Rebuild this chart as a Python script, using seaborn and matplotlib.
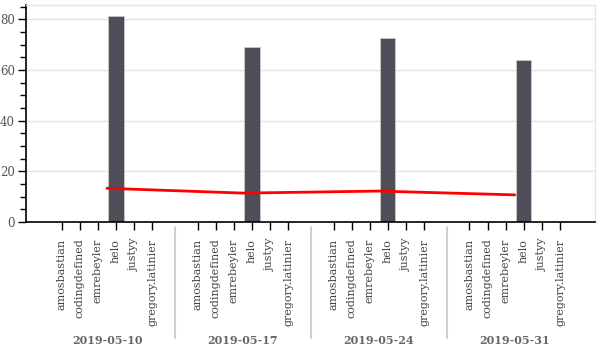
import matplotlib
matplotlib.use("Agg")
import matplotlib.pyplot as plt
import matplotlib.transforms as mtransforms
from matplotlib.lines import Line2D
from matplotlib.ticker import MultipleLocator
import seaborn as sns
import pandas as pd

# ---- data ----
dates = ["2019-05-10", "2019-05-17", "2019-05-24", "2019-05-31"]
names = ["amosbastian", "codingdefined", "emrebeyler", "helo", "justyy", "gregory.latinier"]
values_0510 = [0, 0, 0, 81.3, 0, 0]
values_0517 = [0, 0, 0, 68.9, 0, 0]
values_0524 = [0, 0, 0, 72.7, 0, 0]
values_0531 = [0, 0, 0, 64.0, 0, 0]
line_values = [13.3, 11.4, 12.2, 10.7]

all_values = [values_0510, values_0517, values_0524, values_0531]

# ---- layout (positions of nested categorical factors) ----
GROUP_STEP = 7.5  # 6 factors + group padding
rows = []
for g, d in enumerate(dates):
    for i, n in enumerate(names):
        rows.append({"date": d, "name": n, "pos": g * GROUP_STEP + i, "value": all_values[g][i]})
df = pd.DataFrame(rows)
centers = [g * GROUP_STEP + (len(names) - 1) / 2 for g in range(len(dates))]
line_df = pd.DataFrame({"pos": centers, "value": line_values})

sns.set_style("white")
plt.rcParams["font.family"] = ["DejaVu Serif"]

fig = plt.figure(figsize=(6, 3.5), dpi=100)
W, H = 600, 350
ax = fig.add_axes([26 / W, (H - 222) / H, (595 - 26) / W, (222 - 5) / H])

sns.barplot(data=df, x="pos", y="value", native_scale=True, width=0.84,
            color="#4f4e58", saturation=1, edgecolor="#c8c8cc", linewidth=0.6,
            ax=ax, zorder=2)
sns.lineplot(data=line_df, x="pos", y="value", color="#ff0000", linewidth=2,
             ax=ax, zorder=3)

ax.set_xlim(-1.97, 29.43)
ax.set_ylim(0, 85.6)
ax.set_xlabel("")
ax.set_ylabel("")

# y axis
ax.yaxis.set_major_locator(MultipleLocator(20))
ax.yaxis.set_minor_locator(MultipleLocator(5))
ax.tick_params(axis="y", which="major", direction="out", length=6, width=1,
               color="black", labelsize=8.5, labelcolor="#555555", pad=2, left=True)
ax.tick_params(axis="y", which="minor", direction="out", length=4, width=1,
               color="black", left=True)
ax.yaxis.grid(True, color="#e5e5e5", linewidth=1, zorder=0)
ax.set_axisbelow(True)

# x axis
ax.set_xticks(df["pos"])
ax.set_xticklabels(df["name"], rotation=90, fontsize=8, color="#444444")
ax.tick_params(axis="x", which="major", direction="out", length=6, width=1,
               color="black", pad=6, bottom=True)
ax.xaxis.grid(False)

for s in ["left", "bottom"]:
    ax.spines[s].set_color("black")
    ax.spines[s].set_linewidth(1.2)
for s in ["top", "right"]:
    ax.spines[s].set_color("#e5e5e5")
    ax.spines[s].set_linewidth(1)

# group labels & separators
trans = mtransforms.blended_transform_factory(ax.transData, fig.transFigure)
for g, d in enumerate(dates):
    ax.text(centers[g], (H - 340) / H, d, transform=trans, ha="center", va="center",
            fontsize=8, fontweight="bold", color="#666666", clip_on=False)
for g in range(len(dates) - 1):
    xsep = g * GROUP_STEP + (len(names) - 1) + (GROUP_STEP - (len(names) - 1)) / 2
    fig.add_artist(Line2D([xsep, xsep], [(H - 227) / H, (H - 338) / H],
                          transform=trans, color="#d0d0d0", linewidth=1.5))

fig.savefig("out.png", dpi=100)
